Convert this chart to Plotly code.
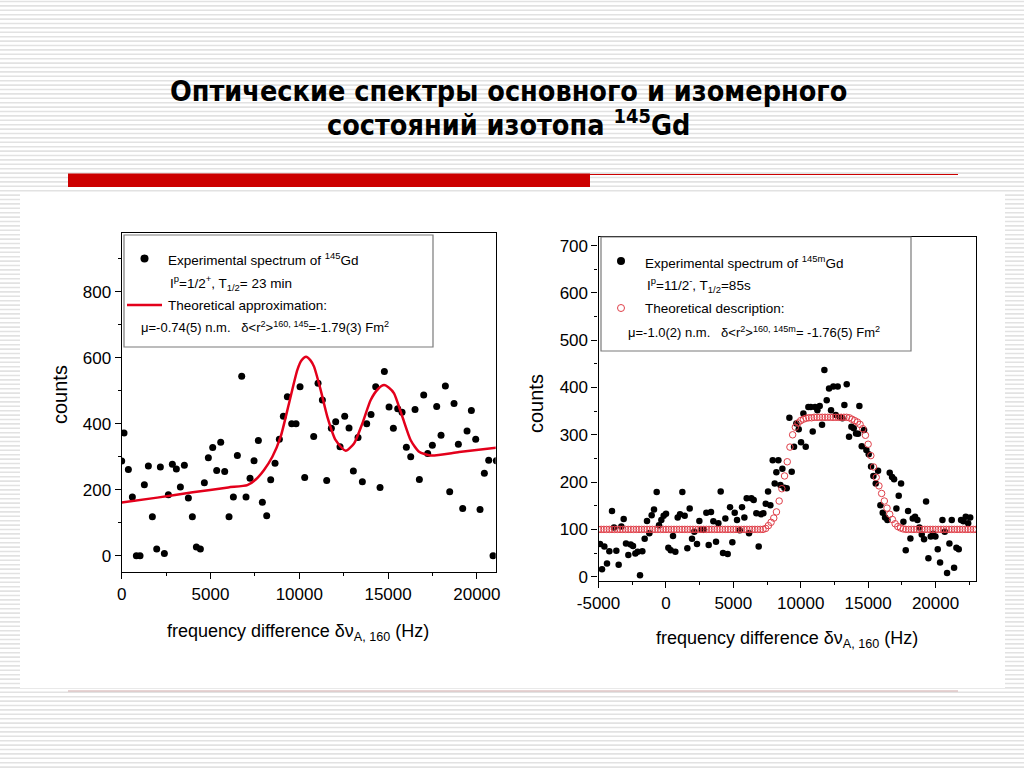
import plotly.graph_objects as go

# ---------------- data ----------------
# left panel: ground state 145Gd
left_x = [0, 131, 375, 600, 826, 1032, 1276, 1502, 1727, 1971,
          2177, 2403, 2628, 2853, 3078, 3304, 3529, 3754, 3979, 4205,
          4430, 4655, 4880, 5124, 5349, 5575, 5800, 6044, 6288, 6513,
          6757, 7001, 7226, 7452, 7696, 7921, 8165, 8390, 8634, 8878,
          9103, 9328, 9572, 9816, 10042, 10305, 10812, 11056, 11300, 11544,
          11806, 12050, 12294, 12557, 12801, 13045, 13308, 13552, 13796, 14040,
          14303, 14547, 14791, 15054, 15298, 15542, 15786, 16030, 16274, 16518,
          16762, 17006, 17231, 17494, 17738, 17982, 18226, 18470, 18714, 18958,
          19202, 19446, 19690, 19934, 20178, 20422, 20666, 20910, 21098]
left_y = [287, 372, 261, 178, 0, 0, 215, 272, 118, 20,
          269, 7, 185, 277, 263, 208, 274, 175, 118, 26,
          20, 221, 297, 328, 258, 344, 255, 118, 178, 304,
          544, 178, 235, 288, 349, 162, 121, 230, 280, 353,
          423, 482, 400, 400, 512, 237, 361, 523, 472, 228,
          386, 406, 330, 423, 387, 257, 358, 224, 400, 428,
          512, 207, 558, 451, 386, 445, 435, 329, 300, 443,
          231, 487, 310, 335, 452, 365, 514, 194, 461, 338,
          143, 378, 440, 353, 140, 250, 289, 0, 288]

fit_x = [0, 2000, 4000, 6000, 7076, 7546, 8015, 8484, 8953, 9423, 9892, 10130,
         10380, 10630, 10830, 11206, 11581, 12050, 12613, 13083, 13552, 14022,
         14450, 14773, 15050, 15336, 15805, 16274, 16743, 17400, 19000, 21097]
fit_y = [161, 176, 192, 207, 214, 231, 260, 300, 361, 462, 563, 592,
         603, 592, 573, 502, 421, 350, 318, 340, 401, 472,
         506, 517, 509, 492, 421, 350, 315, 304, 314, 327]

# right panel: isomer 145mGd
right_x = [-4889, -4740, -4567, -4369, -4196, -3998, -3850, -3677, -3504, -3306,
           -3133, -2960, -2787, -2614, -2440, -2267, -2094, -1921, -1748, -1575,
           -1402, -1229, -1056, -883, -685, -512, -339, -166, 8, 181,
           354, 527, 700, 873, 1046, 1219, 1392, 1590, 1763, 1936,
           2109, 2307, 2480, 2654, 2827, 3000, 3173, 3346, 3519, 3717,
           3890, 4063, 4236, 4409, 4583, 4756, 4929, 5102, 5275, 5473,
           5646, 5819, 5992, 6165, 6338, 6511, 6709, 6882, 7055, 7229,
           7402, 7575, 7748, 7921, 8070, 8193, 8342, 8490, 8639, 8787,
           8960, 9158, 9331, 9504, 9677, 9850, 10023, 10197, 10370, 10568,
           10741, 10889, 11062, 11235, 11408, 11581, 11754, 11927, 12100, 12249,
           12422, 12595, 12743, 12917, 13090, 13238, 13411, 13584, 13757, 13930,
           14103, 14252, 14351, 14524, 14697, 14870, 15043, 15216, 15389, 15562,
           15736, 15909, 16082, 16255, 16428, 16601, 16775, 16923, 17096, 17269,
           17442, 17615, 17789, 17962, 18135, 18308, 18481, 18654, 18802, 18975,
           19148, 19297, 19470, 19643, 19816, 19990, 20163, 20336, 20509, 20682,
           20855, 21028, 21201, 21374, 21547, 21720, 21893, 22066, 22239, 22420,
           22570]
right_y = [69, 16, 64, 28, 54, 139, 104, 55, 25, 106,
           122, 70, 46, 68, 65, 49, 53, 3, 54, 80,
           118, 92, 130, 142, 179, 109, 120, 129, 133, 61,
           56, 86, 53, 125, 132, 179, 129, 60, 144, 80,
           95, 69, 118, 99, 99, 135, 67, 137, 117, 74,
           113, 180, 50, 123, 48, 147, 73, 135, 120, 98,
           147, 125, 166, 92, 166, 162, 134, 64, 132, 134,
           154, 180, 151, 246, 197, 221, 246, 194, 228, 188,
           187, 336, 222, 275, 324, 312, 284, 345, 275, 359,
           359, 307, 359, 352, 361, 321, 437, 373, 398, 352,
           402, 342, 402, 337, 335, 363, 407, 296, 317, 314,
           303, 302, 361, 276, 310, 268, 259, 233, 213, 197,
           224, 151, 135, 125, 120, 220, 211, 206, 144, 171,
           197, 116, 56, 139, 81, 123, 127, 120, 104, 89,
           79, 159, 39, 85, 91, 85, 58, 30, 120, 95,
           8, 70, 120, 19, 61, 58, 120, 117, 127, 113,
           125]

theory_x = [-5000, -4800, -4600, -4400, -4200, -4000, -3800, -3600, -3400, -3200,
            -3000, -2800, -2600, -2400, -2200, -2000, -1800, -1600, -1400, -1200,
            -1000, -800, -600, -400, -200, 0, 200, 400, 600, 800,
            1000, 1200, 1400, 1600, 1800, 2000, 2200, 2400, 2600, 2800,
            3000, 3200, 3400, 3600, 3800, 4000, 4200, 4400, 4600, 4800,
            5000, 5200, 5400, 5600, 5800, 6000, 6200, 6400, 6600, 6800,
            7000, 7200, 7400, 7600, 7800, 8000, 8200, 8400, 8600, 8800,
            9000, 9200, 9400, 9600, 9800, 10000, 10200, 10400, 10600, 10800,
            11000, 11200, 11400, 11600, 11800, 12000, 12200, 12400, 12600, 12800,
            13000, 13200, 13400, 13600, 13800, 14000, 14200, 14400, 14600, 14800,
            15000, 15200, 15400, 15600, 15800, 16000, 16200, 16400, 16600, 16800,
            17000, 17200, 17400, 17600, 17800, 18000, 18200, 18400, 18600, 18800,
            19000, 19200, 19400, 19600, 19800, 20000, 20200, 20400, 20600, 20800,
            21000, 21200, 21400, 21600, 21800, 22000, 22200, 22400, 22600, 22800,
            23000]
theory_y = [100, 100, 100, 100, 100, 100, 100, 100, 100, 100,
            100, 100, 100, 100, 100, 100, 100, 100, 100, 100,
            100, 100, 100, 100, 100, 100, 100, 100, 100, 100,
            100, 100, 100, 100, 100, 100, 100, 100, 100, 100,
            100, 100, 100, 100, 100, 100, 100, 100, 100, 100,
            100, 100, 100, 100, 100, 100, 100, 100, 100, 100,
            100, 100, 102, 108, 115, 124, 137, 160, 186, 213,
            243, 274, 300, 316, 325, 330, 333, 335, 336, 336,
            337, 337, 337, 337, 337, 337, 337, 337, 337, 337,
            337, 337, 337, 336, 333, 330, 327, 322, 313, 299,
            280, 256, 232, 210, 192, 176, 160, 145, 132, 121,
            112, 106, 103, 101, 100, 100, 100, 100, 100, 100,
            100, 100, 100, 100, 100, 100, 100, 100, 100, 100,
            100, 100, 100, 100, 100, 100, 100, 100, 100, 100,
            100]

left_ticks = [0, 5000, 10000, 15000, 20000]
left_ticktext = ["0", "5000", "10000", "15000", "20000"]
right_ticks = [-5000, 0, 5000, 10000, 15000, 20000]
right_ticktext = ["-5000", "0", "5000", "10000", "15000", "20000"]

title_lines = ["Оптические спектры основного и изомерного",
               "состояний изотопа <sup>145</sup>Gd"]

# ---------------- helpers ----------------
W, H = 1024, 768
def px(x):
    return x / W
def py(y):
    return 1 - y / H

SANS = "Liberation Sans, Arial, sans-serif"
TITLEF = "DejaVu Sans Condensed, DejaVu Sans, Liberation Sans, sans-serif"
RED = "#e3001b"

fig = go.Figure()
fig.add_trace(go.Scatter(x=left_x, y=left_y, mode="markers",
                         marker=dict(color="black", size=7), xaxis="x", yaxis="y"))
fig.add_trace(go.Scatter(x=fit_x, y=fit_y, mode="lines",
                         line=dict(color=RED, width=2.5, shape="spline", smoothing=0.6),
                         xaxis="x", yaxis="y"))
fig.add_trace(go.Scatter(x=right_x, y=right_y, mode="markers",
                         marker=dict(color="black", size=6.5), xaxis="x2", yaxis="y2"))
fig.add_trace(go.Scatter(x=theory_x, y=theory_y, mode="markers",
                         marker=dict(symbol="circle-open", color="#e0404a", size=6.5,
                                     line=dict(width=1)),
                         xaxis="x2", yaxis="y2"))

common = dict(showline=True, linecolor="black", linewidth=1.2, mirror=True,
              ticks="outside", ticklen=6, tickwidth=1.2, tickcolor="black",
              showgrid=False, zeroline=False, automargin=False,
              tickfont=dict(family=SANS, size=17, color="black"))
minor_common = dict(ticks="outside", ticklen=3, tickwidth=1.2, tickcolor="black")

fig.update_layout(
    width=W, height=H, margin=dict(l=0, r=0, t=0, b=0, pad=0),
    paper_bgcolor="white", plot_bgcolor="white", showlegend=False,
    xaxis=dict(domain=[px(121.7), px(495.7)], range=[0, 21060], anchor="y",
               tickmode="array", tickvals=left_ticks, ticktext=left_ticktext,
               minor=dict(dtick=2500, tick0=0, **minor_common), **common),
    yaxis=dict(domain=[py(572), py(233)], range=[-49.4, 978], anchor="x",
               dtick=200, tick0=0,
               minor=dict(dtick=100, tick0=0, **minor_common), **common),
    xaxis2=dict(domain=[px(598.5), px(976)], range=[-5000, 23000], anchor="y2",
                tickmode="array", tickvals=right_ticks, ticktext=right_ticktext,
                minor=dict(dtick=2500, tick0=0, **minor_common), **common),
    yaxis2=dict(domain=[py(581), py(237)], range=[-9.1, 718.2], anchor="x2",
                dtick=100, tick0=0,
                minor=dict(dtick=50, tick0=0, **minor_common), **common),
)

# ---------------- slide decoration ----------------
stripe_path = ""
yy = 1.5
while yy < H:
    stripe_path += f"M0,{py(yy):.5f} L1,{py(yy):.5f} "
    yy += 4.4
shapes = [
    dict(type="path", path=stripe_path, xref="paper", yref="paper",
         line=dict(color="#e2e2e2", width=1.6), layer="below"),
    dict(type="rect", x0=px(20), x1=px(1005), y0=py(688), y1=py(194),
         xref="paper", yref="paper", fillcolor="white", line=dict(width=0), layer="below"),
    dict(type="rect", x0=px(68), x1=px(590), y0=py(187), y1=py(173.5),
         xref="paper", yref="paper", fillcolor="#cc0000", line=dict(width=0), layer="below"),
    dict(type="line", x0=px(590), x1=px(958), y0=py(174.5), y1=py(174.5),
         xref="paper", yref="paper", line=dict(color="#cc0000", width=1.2), layer="below"),
    dict(type="line", x0=px(68), x1=px(958), y0=py(691), y1=py(691),
         xref="paper", yref="paper", line=dict(color="#cfaaaa", width=1.2), layer="below"),
    # legend boxes
    dict(type="rect", x0=px(124), x1=px(433), y0=py(347), y1=py(235),
         xref="paper", yref="paper", fillcolor="white", line=dict(color="#7a7a7a", width=1.2)),
    dict(type="rect", x0=px(601), x1=px(911), y0=py(351), y1=py(237),
         xref="paper", yref="paper", fillcolor="white", line=dict(color="#7a7a7a", width=1.2)),
    # legend symbols
    dict(type="circle", x0=px(140.5), x1=px(148.5), y0=py(262.5), y1=py(254.5),
         xref="paper", yref="paper", fillcolor="black", line=dict(width=0)),
    dict(type="line", x0=px(127), x1=px(162), y0=py(305), y1=py(305),
         xref="paper", yref="paper", line=dict(color=RED, width=2.5)),
    dict(type="circle", x0=px(617), x1=px(625), y0=py(265), y1=py(257),
         xref="paper", yref="paper", fillcolor="black", line=dict(width=0)),
    dict(type="circle", x0=px(617.5), x1=px(624.5), y0=py(311.5), y1=py(304.5),
         xref="paper", yref="paper", fillcolor="rgba(0,0,0,0)", line=dict(color="#e0404a", width=1)),
]
fig.update_layout(shapes=shapes)

NB = "\u00a0"
ann = []
def text(x, y, s, size=13.5, anchor="left", family=SANS, angle=0, bold=False):
    if bold:
        s = "<b>" + s + "</b>"
    ann.append(dict(x=px(x), y=py(y), xref="paper", yref="paper", text=s,
                    showarrow=False, xanchor=anchor, yanchor="middle", textangle=angle,
                    font=dict(family=family, size=size, color="black")))

text(508, 92, title_lines[0], size=28.5, anchor="center", family=TITLEF, bold=True)
text(508, 123, title_lines[1], size=28.5, anchor="center", family=TITLEF, bold=True)

text(166, 259, "Experimental spectrum of <sup>145</sup>Gd")
text(168, 283, "I<sup>p</sup>=1/2<sup>+</sup>, T<sub>1/2</sub>= 23 min")
text(166, 305, "Theoretical approximation:")
text(139, 327, "μ=-0.74(5) n.m." + NB * 3 + "δ&lt;r<sup>2</sup>&gt;<sup>160, 145</sup>=-1.79(3) Fm<sup>2</sup>", size=13)

text(643, 262, "Experimental spectrum of <sup>145m</sup>Gd")
text(645, 285, "I<sup>p</sup>=11/2<sup>-</sup>, T<sub>1/2</sub>=85s")
text(643, 308, "Theoretical description:")
text(626, 332, "μ=-1.0(2) n.m." + NB * 3 + "δ&lt;r<sup>2</sup>&gt;<sup>160, 145m</sup>= -1.76(5) Fm<sup>2</sup>", size=13)

text(298, 632, "frequency difference δν<sub>A, 160</sub> (Hz)", size=18, anchor="center")
text(787, 639, "frequency difference δν<sub>A, 160</sub> (Hz)", size=18, anchor="center")
text(60, 395, "counts", size=20, anchor="center", angle=-90)
text(536, 404, "counts", size=20, anchor="center", angle=-90)

fig.update_layout(annotations=ann)

fig.write_html("out.html", config={"displayModeBar": False},
               post_script="document.body.style.margin='0';")
